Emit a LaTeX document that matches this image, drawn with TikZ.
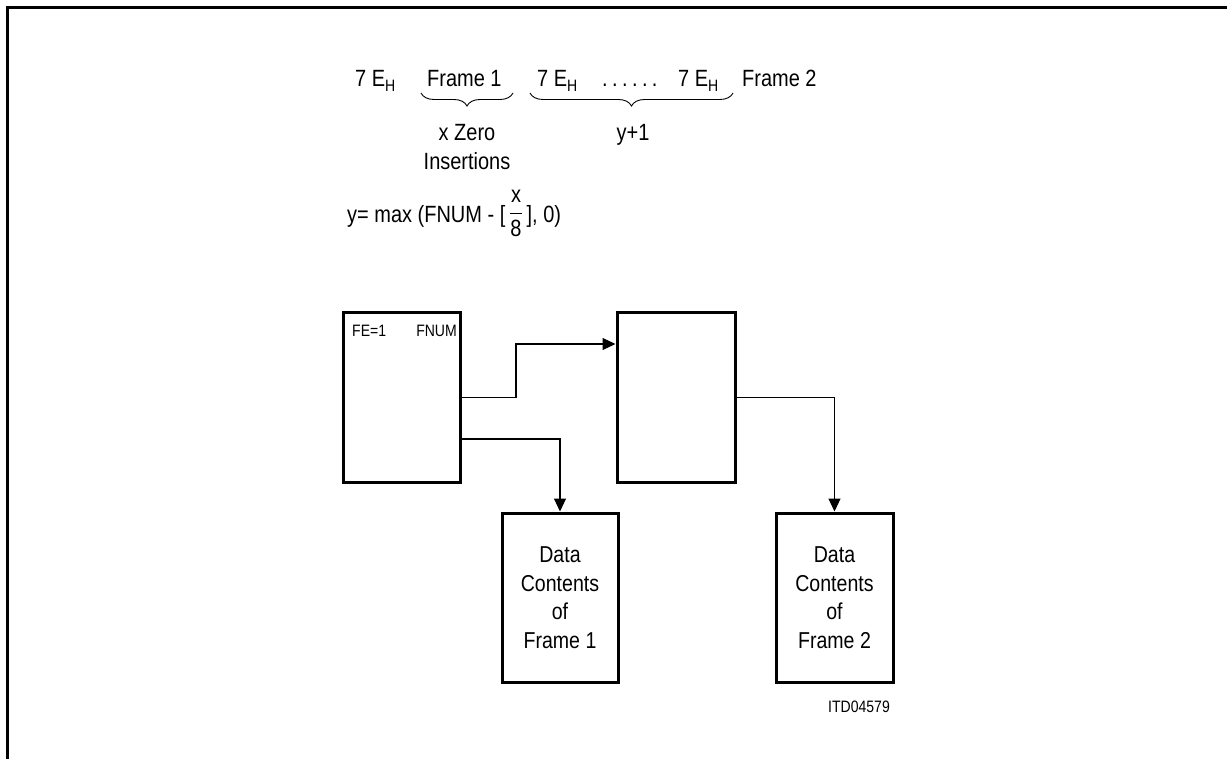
\documentclass[tikz,border=0pt]{standalone}
\usepackage{fontspec}
\setmainfont{Liberation Sans}[FakeStretch=0.85]
\usetikzlibrary{arrows.meta,decorations.pathreplacing}
\newcommand\subH{\raisebox{-5pt}{\fontsize{16.5}{18}\selectfont H}}
\newcommand\dt{.\hspace{4.4pt}}
\tikzset{
  lbl/.style={font=\fontsize{23.5}{28}\selectfont, inner sep=0pt},
  small/.style={font=\fontsize{16.5}{20}\selectfont, inner sep=0pt},
  box/.style={draw, line width=3pt, inner sep=0pt, align=center,
    font=\fontsize{23}{28.5}\selectfont},
  conn/.style={line width=1.1pt},
  arr/.style={conn, -{Triangle[length=13pt,width=12pt]}},
  brc/.style={decorate, decoration={brace, mirror, amplitude=13pt}, line width=0.9pt}
}
\begin{document}
\begin{tikzpicture}[x=1pt,y=-1pt]
\useasboundingbox (0,0) rectangle (1227,759);
% frame
\draw[line width=3pt] (7.5,759) -- (7.5,7.5) -- (1227,7.5);
% top row
\node[lbl, anchor=base west] (e1) at (355,87) {7 E\subH};
\node[lbl, anchor=base west] (f1) at (427,87) {Frame 1};
\node[lbl, anchor=base west] (e2) at (537,87) {7 E\subH};
\node[lbl, anchor=base west] (dots) at (602,87) {\dt\dt\dt\dt\dt.};
\node[lbl, anchor=base west] (e3) at (678,87) {7 E\subH};
\node[lbl, anchor=base west] (f2) at (742,87) {Frame 2};
\coordinate (b1s) at (421,93);
\coordinate (b1e) at (513,93);
\coordinate (b2s) at (530,93);
\coordinate (b2e) at (733,93);
\draw[brc] (b1s) -- (b1e);
\draw[brc] (b2s) -- (b2e);
\node[lbl, anchor=base] (xz) at (467,141) {x Zero};
\node[lbl, anchor=base] (ins) at (467,170) {Insertions};
\node[lbl, anchor=base] (y1) at (633,141) {y+1};
% formula
\node[lbl, anchor=base west] (form) at (347,223) {y= max (FNUM - [\,\raisebox{3.5pt}{$\displaystyle\frac{\mbox{x}}{\mbox{8}}$}\,], 0)};
% boxes
\node[box, minimum width=117pt, minimum height=169pt] (A) at (401.5,397.5) {};
\node[box, minimum width=118pt, minimum height=169pt] (B) at (676,397.5) {};
\node[box, minimum width=116pt, minimum height=169pt] (C) at (560,597.5) {Data\\Contents\\of\\Frame 1};
\node[box, minimum width=117pt, minimum height=169pt] (D) at (834.5,597.5) {Data\\Contents\\of\\Frame 2};
\node[small, anchor=base west] (fe) at (352,337) {FE=1};
\node[small, anchor=base east] (fnum) at (457,337) {FNUM};
\node[small, anchor=base east] (itd) at (890,712) {ITD04579};
% connectors
\coordinate (k1) at (516,344);
\coordinate (k2) at (0,439);
\draw[arr] (A.east) -| (k1) -- (B.west |- k1);
\draw[arr] (A.east |- k2) -| (C.north);
\draw[arr] (B.east) -| (D.north);
\end{tikzpicture}
\end{document}
